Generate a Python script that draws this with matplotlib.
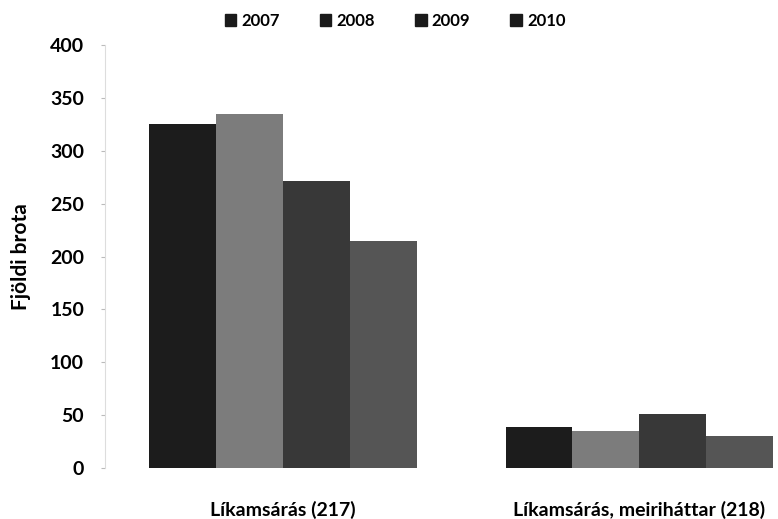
import matplotlib.pyplot as plt
from matplotlib.patches import Patch
import numpy as np

categories = ["Líkamsárás (217)", "Líkamsárás, meiriháttar (218)"]
years = ["2007", "2008", "2009", "2010"]
values = {
    "2007": [325, 39],
    "2008": [335, 35],
    "2009": [271, 51],
    "2010": [215, 30],
}
colors = ["#1c1c1c", "#7c7c7c", "#383838", "#555555"]
yticks = [0, 50, 100, 150, 200, 250, 300, 350, 400]

plt.rcParams['font.family'] = ['Lato', 'DejaVu Sans']
W, H = 778, 519
fig = plt.figure(figsize=(W/100, H/100), dpi=100)
left, right = 105, 817
bottom, top = 468, 45
ax = fig.add_axes([left/W, 1 - bottom/H, (right-left)/W, (bottom-top)/H])

x = np.arange(len(categories))
bw = 0.1875
for i, y in enumerate(years):
    ax.bar(x + (i - 1.5) * bw, values[y], width=bw, color=colors[i], label=y)

ax.set_xlim(-0.5, 1.5)
ax.set_ylim(0, 400)
ax.set_yticks(yticks)
ax.set_yticklabels([str(t) for t in yticks], fontsize=14, fontweight='bold')
ax.set_xticks(x)
ax.set_xticklabels(categories, fontsize=14, fontweight='bold')
ax.tick_params(axis='x', length=0, pad=24)
ax.tick_params(axis='y', length=3, color='#bbbbbb', pad=12)
for s in ['top', 'right', 'bottom']:
    ax.spines[s].set_visible(False)
ax.spines['left'].set_color('#dddddd')
ax.set_ylabel("Fjöldi brota", fontsize=15, fontweight='bold', labelpad=14)

handles = [Patch(color='#1a1a1a', label=y) for y in years]
fig.legend(handles=handles, loc='center', bbox_to_anchor=(395/W, 1 - 21/H), ncol=4,
           frameon=False, prop={'size': 12, 'weight': 'bold'}, handlelength=0.7,
           handleheight=0.7, handletextpad=0.3, columnspacing=2.4)

fig.savefig("out.png", dpi=100)
